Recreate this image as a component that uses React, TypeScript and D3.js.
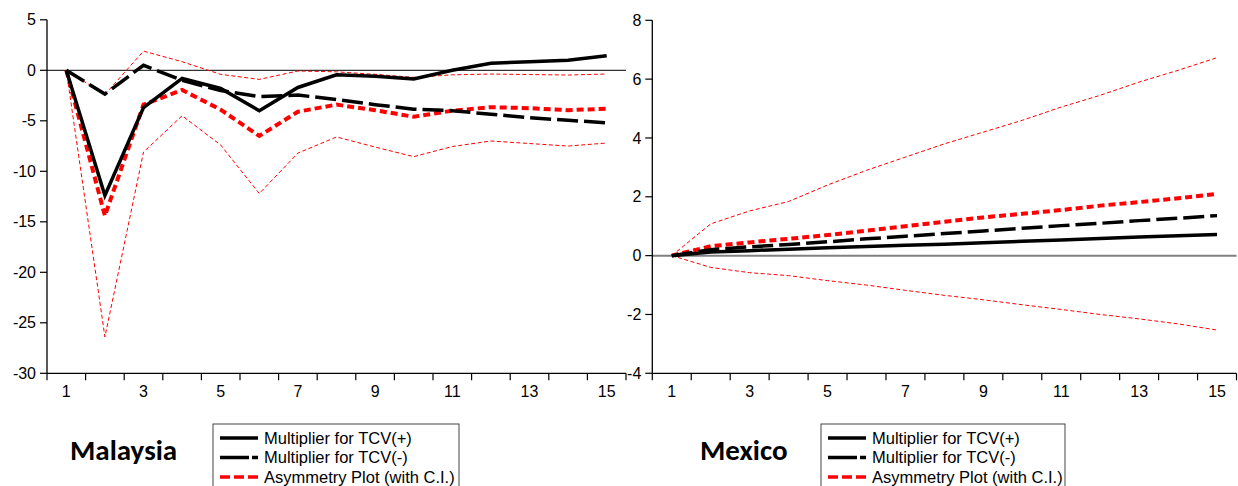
import React from "react";
import * as d3 from "d3";

const periods = [1, 2, 3, 4, 5, 6, 7, 8, 9, 10, 11, 12, 13, 14, 15];
const xTickLabels = [1, 3, 5, 7, 9, 11, 13, 15];

// Malaysia
const myPos = [0, -12.4, -3.7, -0.8, -1.8, -4.0, -1.7, -0.45, -0.6, -0.85, 0.0, 0.7, 0.85, 1.0, 1.45];
const myNeg = [0, -2.35, 0.5, -1.0, -2.0, -2.6, -2.45, -2.9, -3.4, -3.85, -4.0, -4.35, -4.7, -4.95, -5.2];
const myAsym = [0, -14.4, -3.4, -1.95, -3.9, -6.5, -4.1, -3.4, -3.95, -4.6, -4.0, -3.65, -3.75, -3.95, -3.8];
const myUpper = [0, -2.4, 1.9, 0.85, -0.4, -0.9, -0.07, -0.15, -0.4, -0.7, -0.45, -0.37, -0.42, -0.47, -0.37];
const myLower = [0, -26.4, -8.1, -4.5, -7.4, -12.2, -8.2, -6.6, -7.6, -8.55, -7.55, -7.0, -7.25, -7.5, -7.2];
const myYTicks = [5, 0, -5, -10, -15, -20, -25, -30];

// Mexico
const mxPos = [0, 0.12, 0.17, 0.22, 0.27, 0.31, 0.35, 0.39, 0.44, 0.49, 0.53, 0.58, 0.63, 0.68, 0.72];
const mxNeg = [0, 0.2, 0.3, 0.38, 0.47, 0.57, 0.66, 0.75, 0.84, 0.93, 1.02, 1.1, 1.19, 1.27, 1.36];
const mxAsym = [0, 0.32, 0.45, 0.57, 0.7, 0.85, 1.0, 1.15, 1.3, 1.42, 1.55, 1.7, 1.82, 1.95, 2.1];
const mxUpper = [0, 1.08, 1.52, 1.84, 2.4, 2.9, 3.35, 3.8, 4.2, 4.6, 5.05, 5.45, 5.9, 6.3, 6.73];
const mxLower = [0, -0.4, -0.58, -0.68, -0.85, -1.0, -1.18, -1.35, -1.5, -1.67, -1.83, -2.0, -2.15, -2.32, -2.53];
const mxYTicks = [8, 6, 4, 2, 0, -2, -4];

const legendLabels = ["Multiplier for TCV(+)", "Multiplier for TCV(-)", "Asymmetry Plot (with C.I.)"];

type PanelProps = {
  x0: number;
  x1: number;
  yTop: number;
  yBottom: number;
  yDomain: [number, number];
  yTicks: number[];
  pos: number[];
  neg: number[];
  asym: number[];
  upper: number[];
  lower: number[];
  zeroColor: string;
  zeroWidth: number;
};

function Panel(p: PanelProps) {
  const x = d3.scaleLinear().domain([0.5, 15.5]).range([p.x0, p.x1]);
  const y = d3.scaleLinear().domain(p.yDomain).range([p.yBottom, p.yTop]);
  const line = (vals: number[]) =>
    d3.line<number>().x((_, i) => x(periods[i])).y((v) => y(v))(vals) || "";
  const halfTicks = d3.range(0.5, 15.6, 1);
  const font = "'Liberation Sans', Arial, sans-serif";
  return (
    <g>
      <line x1={p.x0} x2={p.x1} y1={y(0)} y2={y(0)} stroke={p.zeroColor} strokeWidth={p.zeroWidth} />
      <path d={line(p.upper)} fill="none" stroke="#ff0000" strokeWidth={1} strokeDasharray="4 2.5" />
      <path d={line(p.lower)} fill="none" stroke="#ff0000" strokeWidth={1} strokeDasharray="4 2.5" />
      <path d={line(p.asym)} fill="none" stroke="#ff0000" strokeWidth={4} strokeDasharray="7 4" />
      <path d={line(p.neg)} fill="none" stroke="#000" strokeWidth={3.5} strokeDasharray="21 6" />
      <path d={line(p.pos)} fill="none" stroke="#000" strokeWidth={3.5} />
      <line x1={p.x0} x2={p.x0} y1={p.yTop} y2={p.yBottom} stroke="#000" strokeWidth={1.3} />
      <line x1={p.x0} x2={p.x1} y1={p.yBottom} y2={p.yBottom} stroke="#000" strokeWidth={1.3} />
      {p.yTicks.map((t) => (
        <g key={"y" + t}>
          <line x1={p.x0 - 7} x2={p.x0} y1={y(t)} y2={y(t)} stroke="#000" strokeWidth={1.2} />
          <text x={p.x0 - 11} y={y(t)} dy="0.35em" textAnchor="end" fontFamily={font} fontSize={16} fill="#000">
            {t}
          </text>
        </g>
      ))}
      {halfTicks.map((t) => (
        <line key={"xt" + t} x1={x(t)} x2={x(t)} y1={p.yBottom} y2={p.yBottom + 7} stroke="#000" strokeWidth={1.2} />
      ))}
      {xTickLabels.map((t) => (
        <text key={"xl" + t} x={x(t)} y={p.yBottom + 24} textAnchor="middle" fontFamily={font} fontSize={16} fill="#000">
          {t}
        </text>
      ))}
    </g>
  );
}

function Legend({ title, titleX, boxX, boxW }: { title: string; titleX: number; boxX: number; boxW: number }) {
  const font = "'Liberation Sans', Arial, sans-serif";
  const rows = [438, 457.5, 477];
  const lx0 = boxX + 7;
  const lx1 = boxX + 45;
  return (
    <g>
      <text x={titleX} y={460} fontFamily="Carlito, Lato, 'Open Sans', sans-serif" fontWeight="bold" fontSize={29} fill="#000">
        {title}
      </text>
      <rect x={boxX} y={424} width={boxW} height={70} fill="#fff" stroke="#444" strokeWidth={1} />
      <line x1={lx0} x2={lx1} y1={rows[0]} y2={rows[0]} stroke="#000" strokeWidth={3.5} />
      <line x1={lx0} x2={lx1} y1={rows[1]} y2={rows[1]} stroke="#000" strokeWidth={3.5} strokeDasharray="29 3 6 100" />
      <line x1={lx0} x2={lx1} y1={rows[2]} y2={rows[2]} stroke="#ff0000" strokeWidth={3.5} strokeDasharray="10 4" />
      {legendLabels.map((l, i) => (
        <text key={l} x={lx1 + 6} y={rows[i]} dy="0.36em" fontFamily={font} fontSize={16.5} fill="#000">
          {l}
        </text>
      ))}
    </g>
  );
}

export default function App() {
  return (
    <svg
      width={1238}
      height={486}
      style={{ position: "absolute", left: 0, top: 0, background: "#fff" }}
    >
      <rect width={1238} height={486} fill="#fff" />
      <Panel
        x0={47}
        x1={626}
        yTop={19.8}
        yBottom={373.3}
        yDomain={[-30, 5]}
        yTicks={myYTicks}
        pos={myPos}
        neg={myNeg}
        asym={myAsym}
        upper={myUpper}
        lower={myLower}
        zeroColor="#000"
        zeroWidth={1}
      />
      <Panel
        x0={652.3}
        x1={1236.5}
        yTop={20.3}
        yBottom={373.3}
        yDomain={[-4, 8]}
        yTicks={mxYTicks}
        pos={mxPos}
        neg={mxNeg}
        asym={mxAsym}
        upper={mxUpper}
        lower={mxLower}
        zeroColor="#808080"
        zeroWidth={2}
      />
      <Legend title="Malaysia" titleX={70} boxX={213} boxW={246} />
      <Legend title="Mexico" titleX={700} boxX={821} boxW={244} />
    </svg>
  );
}
